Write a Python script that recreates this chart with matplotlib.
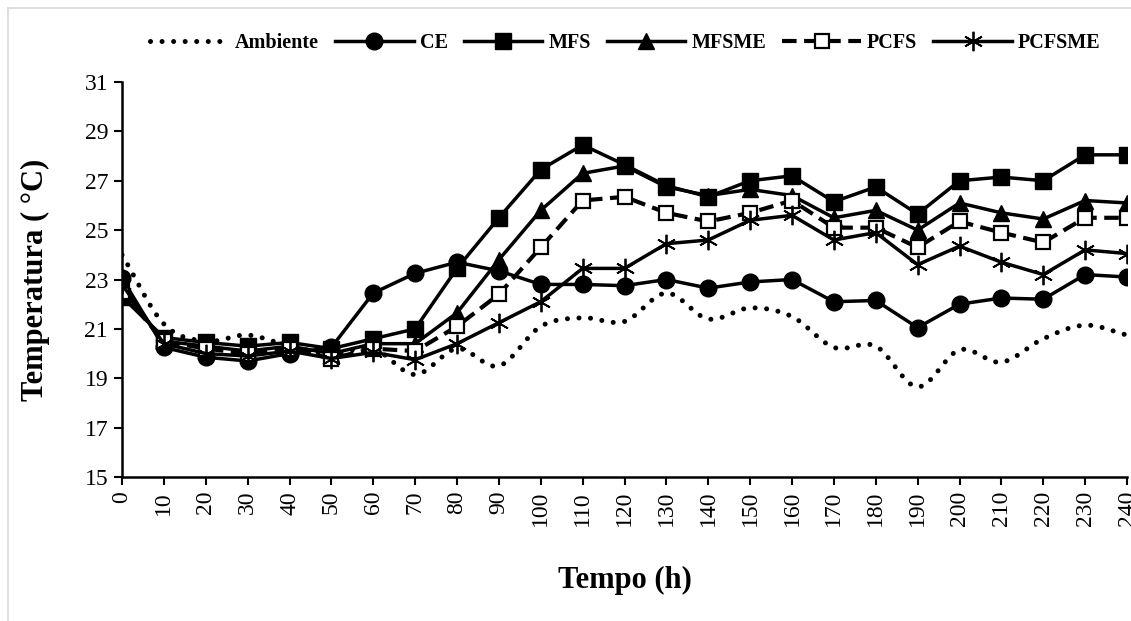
import matplotlib.pyplot as plt
import numpy as np
from matplotlib.lines import Line2D

plt.switch_backend('Agg')
plt.rcParams['font.family'] = ['Liberation Serif', 'DejaVu Serif']

# Data (temperature in degC every 10 h)
tempo = list(range(0, 250, 10))
ambiente = [24.0, 21.2, 20.5, 20.75, 20.3, 20.0, 20.2, 19.15, 20.2, 19.5, 21.1, 21.45, 21.3,
            22.45, 21.4, 21.85, 21.5, 20.25, 20.3, 18.65, 20.15, 19.65, 20.6, 21.15, 20.75]
ce = [23.05, 20.25, 19.85, 19.7, 20.0, 20.25, 22.45, 23.25, 23.7, 23.35, 22.8, 22.8, 22.75,
      23.0, 22.65, 22.9, 23.0, 22.1, 22.15, 21.05, 22.0, 22.25, 22.2, 23.2, 23.1]
mfs = [22.3, 20.65, 20.45, 20.3, 20.45, 20.2, 20.6, 21.0, 23.45, 25.5, 27.45, 28.45, 27.65,
       26.8, 26.35, 27.0, 27.2, 26.15, 26.75, 25.65, 27.0, 27.15, 27.0, 28.05, 28.05]
mfsme = [22.6, 20.5, 20.3, 20.1, 20.3, 20.0, 20.4, 20.4, 21.65, 23.8, 25.8, 27.3, 27.6,
         26.75, 26.4, 26.65, 26.4, 25.5, 25.8, 25.0, 26.1, 25.7, 25.45, 26.2, 26.1]
pcfs = [22.5, 20.5, 20.2, 20.0, 20.2, 19.8, 20.2, 20.1, 21.1, 22.4, 24.3, 26.2, 26.35,
        25.7, 25.35, 25.7, 26.2, 25.1, 25.1, 24.3, 25.35, 24.9, 24.5, 25.5, 25.5]
pcfsme = [22.8, 20.4, 20.0, 19.9, 20.1, 19.8, 20.05, 19.75, 20.4, 21.25, 22.1, 23.45, 23.45,
          24.45, 24.6, 25.4, 25.6, 24.6, 24.9, 23.6, 24.35, 23.7, 23.2, 24.2, 24.05]


def smooth_curve(x, y, steps=20):
    """Catmull-Rom curve through the points, like a smoothed line in Excel"""
    x = np.asarray(x, float)
    y = np.asarray(y, float)
    px = np.concatenate([[2 * x[0] - x[1]], x, [2 * x[-1] - x[-2]]])
    py = np.concatenate([[2 * y[0] - y[1]], y, [2 * y[-1] - y[-2]]])
    t = np.linspace(0, 1, steps, endpoint=False)
    xs, ys = [], []
    for i in range(1, len(px) - 2):
        for p, out in ((px, xs), (py, ys)):
            p0, p1, p2, p3 = p[i - 1], p[i], p[i + 1], p[i + 2]
            out.extend(0.5 * (2 * p1 + (-p0 + p2) * t + (2 * p0 - 5 * p1 + 4 * p2 - p3) * t ** 2
                              + (-p0 + 3 * p1 - 3 * p2 + p3) * t ** 3))
    xs.append(x[-1])
    ys.append(y[-1])
    return np.array(xs), np.array(ys)


fig = plt.figure(figsize=(11.31, 6.21), dpi=100)
ax = fig.add_axes([122 / 1131, 1 - 477 / 621, 1005 / 1131, 395 / 621])

lw = 2.5
sx, sy = smooth_curve(tempo, ambiente)
ax.plot(sx, sy, color='black', lw=3.6, linestyle=(0, (0.01, 2.3)),
        dash_capstyle='round', label='Ambiente')
ax.plot(tempo, ce, color='black', lw=lw, marker='o', markersize=12, label='CE')
ax.plot(tempo, mfs, color='black', lw=lw, marker='s', markersize=11, label='MFS')
ax.plot(tempo, mfsme, color='black', lw=lw, marker='^', markersize=11, label='MFSME')
ax.plot(tempo, pcfs, color='black', lw=lw + 0.5, linestyle=(0, (3.5, 1.8)), marker='s',
        markersize=10.5, markerfacecolor='white', markeredgewidth=1.6, label='PCFS')
ax.plot(tempo, pcfsme, color='black', lw=lw, marker=(6, 2, 0), markersize=14,
        markeredgewidth=1.3, label='PCFSME')

ax.set_xlim(0, 240)
ax.set_ylim(15, 31)
ax.set_xticks(tempo)
ax.set_xticklabels([str(t) for t in tempo], rotation=90)
ax.set_yticks(range(15, 32, 2))
ax.tick_params(labelsize=17, direction='out', length=6, width=1.5, pad=4)
for side in ('top', 'right'):
    ax.spines[side].set_visible(False)
for side in ('left', 'bottom'):
    ax.spines[side].set_linewidth(1.8)

ax.set_ylabel('Temperatura ( °C)', fontsize=22, fontweight='bold')
ax.set_xlabel('Tempo (h)', fontsize=22, fontweight='bold')
ax.yaxis.set_label_coords(-0.072, 0.5)
ax.xaxis.set_label_coords(0.5, -0.225)

fig.legend(loc='center', bbox_to_anchor=(0.553, 0.931), ncol=6, frameon=False,
           prop={'size': 14.5, 'weight': 'bold'}, handlelength=3.9, handletextpad=0.3,
           columnspacing=0.8, numpoints=1)

# light chart border like the original
fig.add_artist(Line2D([8 / 1131, 8 / 1131], [0, 1 - 8 / 621], transform=fig.transFigure,
                      color='#d9d9d9', lw=1.2))
fig.add_artist(Line2D([8 / 1131, 1], [1 - 8 / 621, 1 - 8 / 621], transform=fig.transFigure,
                      color='#d9d9d9', lw=1.2))

fig.savefig('out.png', dpi=100, facecolor='white')
